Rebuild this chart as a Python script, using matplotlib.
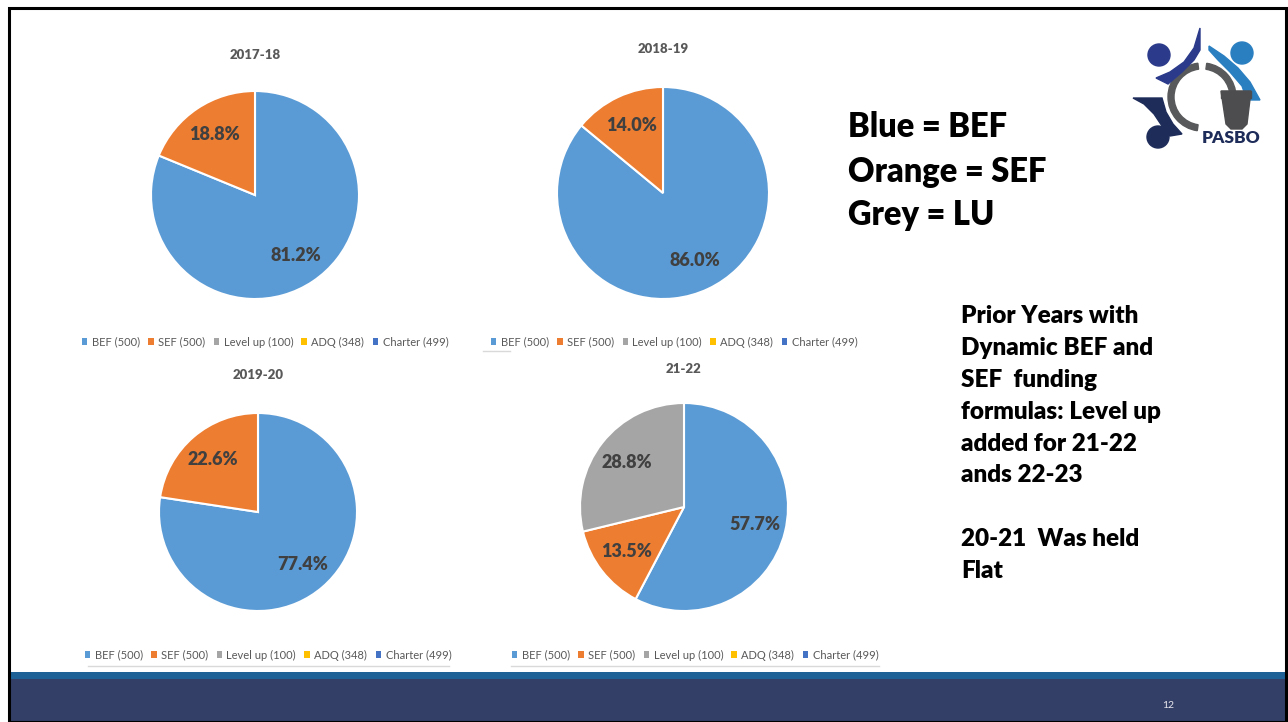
import matplotlib.pyplot as plt
from matplotlib.patches import Patch, Rectangle, Circle, Polygon, Wedge
from matplotlib.lines import Line2D

plt.rcParams["font.family"] = ["Lato", "DejaVu Sans"]

W, H = 1288, 722

# data
categories = ["BEF (500)", "SEF (500)", "Level up (100)", "ADQ (348)", "Charter (499)"]
colors = ["#5B9BD5", "#ED7D31", "#A5A5A5", "#FFC000", "#4472C4"]
years = ["2017-18", "2018-19", "2019-20", "21-22"]
shares = {
    "2017-18": [81.2, 18.8, 0, 0, 0],
    "2018-19": [86.0, 14.0, 0, 0, 0],
    "2019-20": [77.4, 22.6, 0, 0, 0],
    "21-22": [57.7, 13.5, 28.8, 0, 0],
}

# layout in slide pixels: pie centre, radius, title y, legend centre
layout = {
    "2017-18": dict(c=(255, 195), r=104, ty=55, lg=(265, 342)),
    "2018-19": dict(c=(663, 193), r=106, ty=49, lg=(674, 342)),
    "2019-20": dict(c=(258, 512), r=99, ty=375, lg=(268, 655)),
    "21-22": dict(c=(684, 507), r=104, ty=369, lg=(695, 655)),
}


def fx(x):
    return x / W


def fy(y):
    return 1 - y / H


fig = plt.figure(figsize=(W / 100, H / 100), dpi=100)
fig.patch.set_facecolor("white")

# slide frame and footer
fig.add_artist(Rectangle((fx(10), fy(722)), fx(1275), 43 / H, transform=fig.transFigure,
                         facecolor="#343F67", edgecolor="none"))
fig.add_artist(Rectangle((fx(10), fy(679)), fx(1275), 7 / H, transform=fig.transFigure,
                         facecolor="#1D6196", edgecolor="none"))
fig.add_artist(Rectangle((fx(8.5), fy(722)), fx(1277), 714.5 / H, transform=fig.transFigure,
                         facecolor="none", edgecolor="black", linewidth=2.2))
fig.text(fx(1168), fy(705), "12", color="#E8E8EE", fontsize=7.5, ha="center", va="center")

# faint chart borders peeking out below the legends
for x0, x1, y in [(88, 449, 666), (511, 879, 666), (483, 510, 351)]:
    fig.add_artist(Line2D([fx(x0), fx(x1)], [fy(y), fy(y)], transform=fig.transFigure,
                          color="#D9D9D9", linewidth=1))

for yr in years:
    L = layout[yr]
    cx, cy = L["c"]
    r = L["r"]
    ax = fig.add_axes([fx(cx - r), fy(cy + r), 2 * r / W, 2 * r / H])
    vals = [v for v in shares[yr] if v > 0]
    cols = [c for v, c in zip(shares[yr], colors) if v > 0]
    ax.pie(vals, colors=cols, startangle=90, counterclock=False, radius=1,
           autopct="%.1f%%", pctdistance=0.7,
           wedgeprops=dict(edgecolor="white", linewidth=1.5),
           textprops=dict(fontsize=13, fontweight="heavy", color="#404040"))
    ax.set_xlim(-1, 1)
    ax.set_ylim(-1, 1)
    ax.set_aspect("equal")
    ax.axis("off")

    fig.text(fx(cx), fy(L["ty"]), yr, ha="center", va="center", fontsize=9.5,
             fontweight="heavy", color="#595959")

    handles = [Patch(facecolor=c, edgecolor="none") for c in colors]
    lx, ly = L["lg"]
    fig.legend(handles, categories, loc="center", bbox_to_anchor=(fx(lx), fy(ly)),
               ncol=5, frameon=False, fontsize=8, handlelength=0.5, handleheight=0.5,
               handletextpad=0.4, columnspacing=0.75, labelcolor="#595959",
               borderaxespad=0, borderpad=0)

# colour key
for txt, yb in [("Blue = BEF", 137), ("Orange = SEF", 182), ("Grey = LU", 225)]:
    fig.text(fx(848), fy(yb), txt, fontsize=23.5, fontweight="heavy", color="black",
             ha="left", va="baseline")

notes = ["Prior Years with", "Dynamic BEF and", "SEF  funding", "formulas: Level up",
         "added for 21-22", "ands 22-23", "", "20-21  Was held", "Flat"]
for i, line in enumerate(notes):
    fig.text(fx(961), fy(323 + i * 31.9), line, fontsize=17.5, fontweight="heavy",
             color="black", ha="left", va="baseline")

# logo (approximate shapes), coords in logo px with y up
lax = fig.add_axes([fx(1120), fy(160), 160 / W, 140 / H])
lax.set_xlim(0, 160)
lax.set_ylim(0, 140)
lax.axis("off")


def up(pts):
    return [(x, 140 - y) for x, y in pts]


lax.add_patch(Wedge((82, 63), 34, 97, 262, width=6, color="#58595B"))
lax.add_patch(Wedge((82, 63), 34, 0, 82, width=6, color="#58595B"))
lax.add_patch(Circle((39, 105), 11, color="#2B3A8A"))
lax.add_patch(Polygon(up([(36, 58), (50, 52), (64, 42), (74, 28), (80, 8), (80, 30),
                          (74, 40), (62, 52), (48, 64)]), color="#2B3A8A"))
lax.add_patch(Circle((122, 107), 11, color="#2A7FC1"))
lax.add_patch(Polygon(up([(89, 30), (89, 26), (104, 36), (118, 48), (130, 62), (140, 80),
                          (127, 80), (122, 66), (110, 52), (98, 40)]), color="#2A7FC1"))
lax.add_patch(Circle((38, 23), 11, color="#1E2C5A"))
lax.add_patch(Polygon(up([(13, 78), (42, 78), (46, 92), (53, 104), (62, 114), (50, 116),
                          (42, 106), (34, 94), (24, 84)]), color="#1E2C5A"))
lax.add_patch(Polygon(up([(101, 71), (131, 71), (127, 104), (122, 109), (111, 109),
                          (106, 104)]), color="#4D4D4F"))
lax.add_patch(Rectangle((101, 140 - 78), 30, 7, color="#4D4D4F"))
lax.text(111, 140 - 118, "PASBO", ha="center", va="center", fontsize=12.5,
         fontweight="heavy", color="#1E2C5A")

fig.savefig("out.png", dpi=100)
